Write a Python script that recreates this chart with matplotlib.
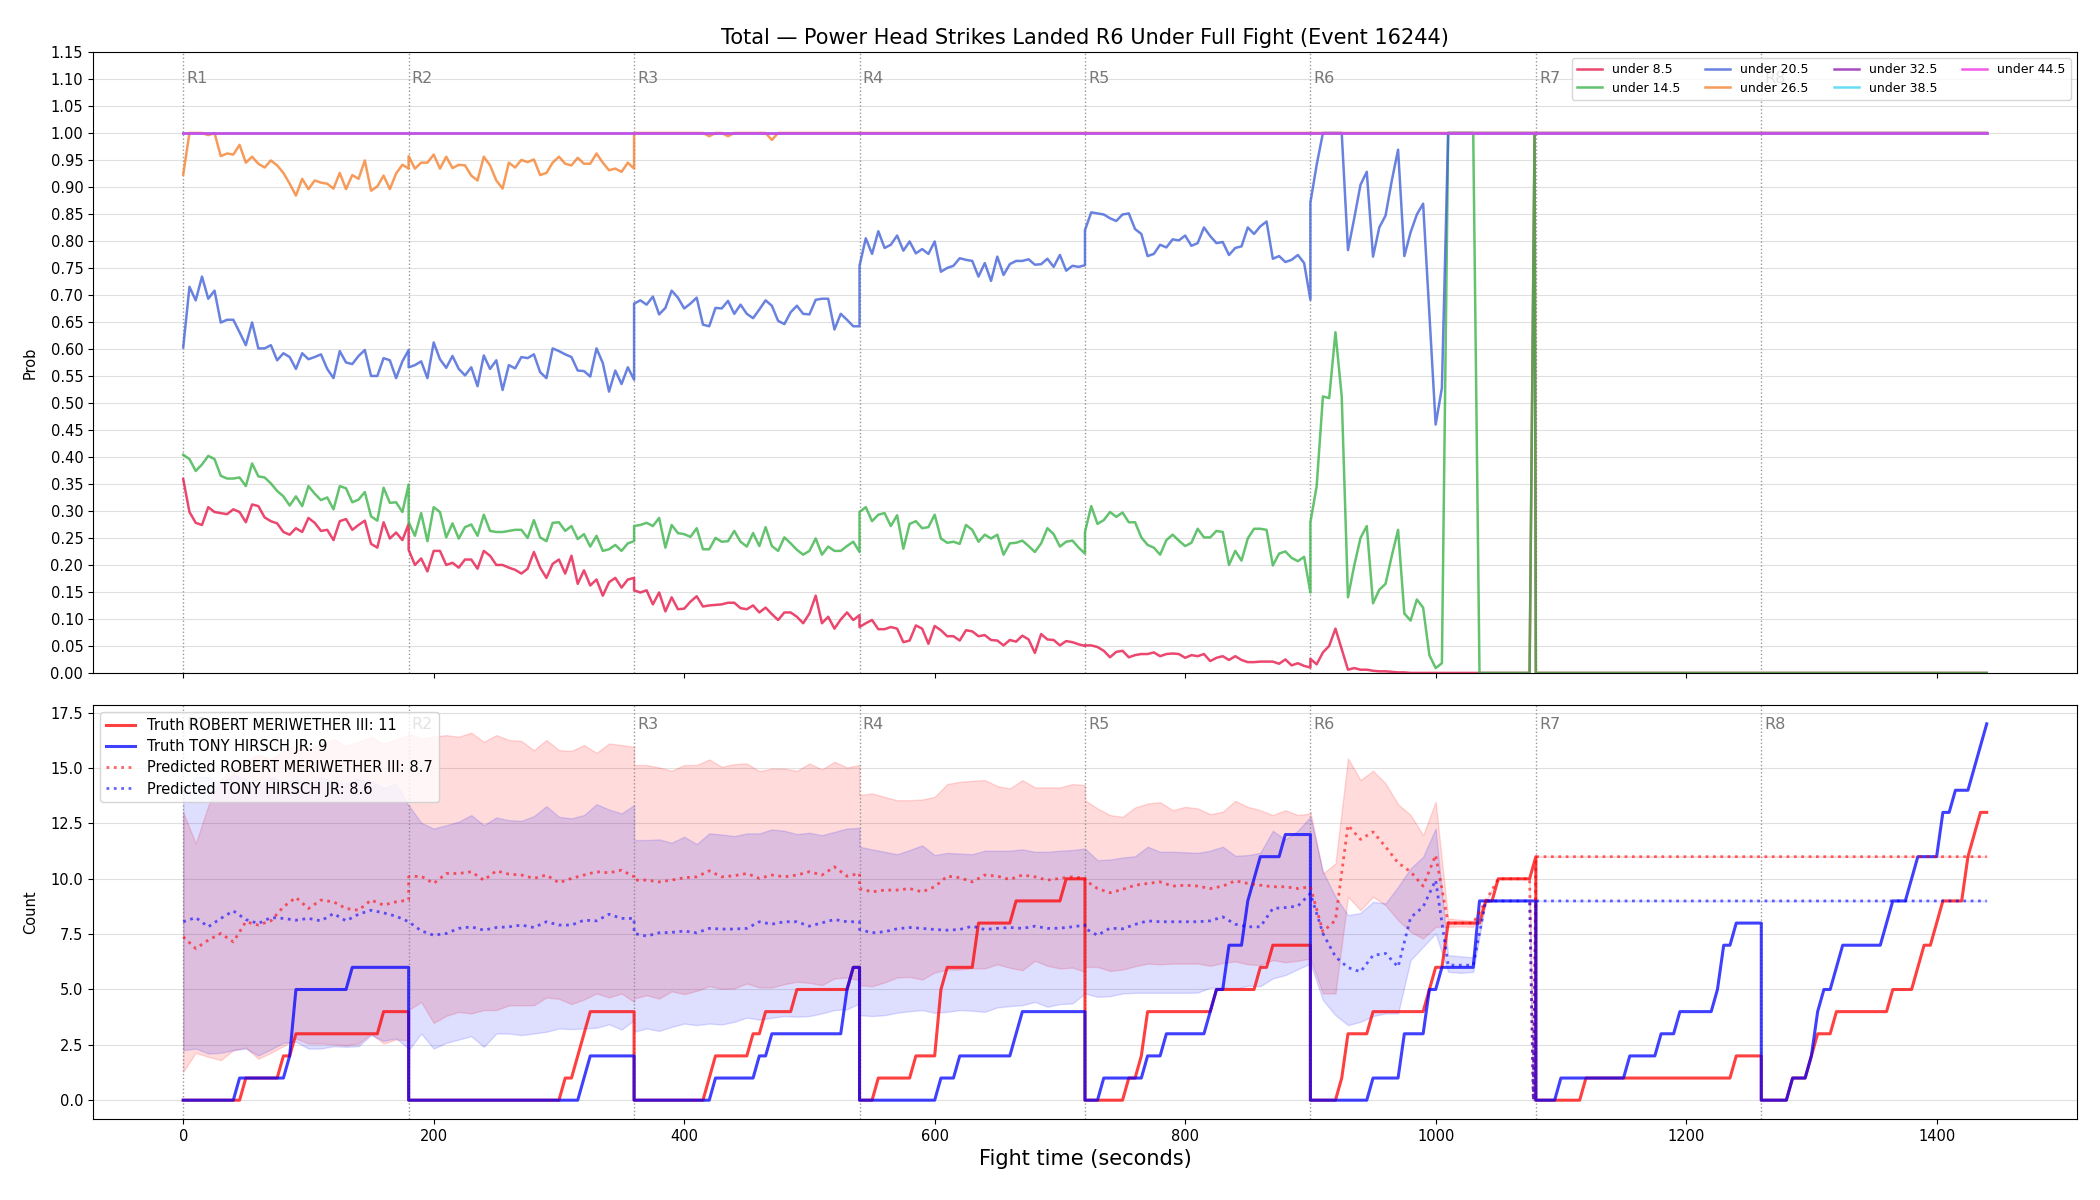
import numpy as np
import matplotlib
matplotlib.use("Agg")
import matplotlib.pyplot as plt
import matplotlib.transforms as mtransforms

# ---------------- top panel: P(total < line), sampled every 5 s ----------------
round_starts = [0, 180, 360, 540, 720, 900, 1080, 1260]
round_names = ["R1", "R2", "R3", "R4", "R5", "R6", "R7", "R8"]
line_labels = ["under 8.5", "under 14.5", "under 20.5", "under 26.5",
               "under 32.5", "under 38.5", "under 44.5"]
line_colors = ["#e6194b", "#3cb44b", "#4363d8", "#f58231",
               "#911eb4", "#42d4f4", "#f032e6"]

u85 = [
    [0.359, 0.298, 0.278, 0.274, 0.307, 0.298, 0.296, 0.294, 0.303, 0.298, 0.279, 0.312, 0.309, 0.288, 0.281, 0.277, 0.261, 0.256, 0.268,
     0.261, 0.287, 0.278, 0.263, 0.265, 0.246, 0.281, 0.285, 0.265, 0.274, 0.282, 0.239, 0.232, 0.279, 0.249, 0.260, 0.246, 0.276],
    [0.228, 0.200, 0.212, 0.188, 0.226, 0.226, 0.200, 0.204, 0.195, 0.210, 0.210, 0.193, 0.226, 0.217, 0.200, 0.200, 0.195, 0.191, 0.184,
     0.193, 0.224, 0.195, 0.176, 0.202, 0.210, 0.184, 0.217, 0.165, 0.190, 0.162, 0.173, 0.143, 0.168, 0.176, 0.158, 0.173, 0.176],
    [0.153, 0.149, 0.153, 0.127, 0.149, 0.114, 0.140, 0.118, 0.119, 0.132, 0.142, 0.123, 0.125, 0.126, 0.127, 0.130, 0.130, 0.120, 0.118,
     0.125, 0.112, 0.121, 0.109, 0.098, 0.112, 0.112, 0.104, 0.092, 0.110, 0.143, 0.092, 0.104, 0.082, 0.099, 0.112, 0.098, 0.107],
    [0.085, 0.092, 0.098, 0.081, 0.081, 0.085, 0.082, 0.057, 0.060, 0.088, 0.082, 0.054, 0.087, 0.079, 0.068, 0.068, 0.060, 0.079, 0.077,
     0.068, 0.070, 0.061, 0.060, 0.051, 0.061, 0.058, 0.069, 0.062, 0.037, 0.072, 0.062, 0.061, 0.051, 0.059, 0.057, 0.053, 0.050],
    [0.051, 0.051, 0.048, 0.041, 0.029, 0.039, 0.041, 0.029, 0.033, 0.035, 0.035, 0.038, 0.031, 0.035, 0.036, 0.035, 0.028, 0.033, 0.031,
     0.035, 0.022, 0.028, 0.031, 0.024, 0.031, 0.024, 0.020, 0.020, 0.021, 0.021, 0.021, 0.017, 0.025, 0.014, 0.018, 0.013, 0.010],
    [0.026, 0.016, 0.038, 0.050, 0.082, 0.044, 0.006, 0.009, 0.006, 0.006, 0.004, 0.003, 0.003, 0.002, 0.001, 0.001, 0.0, 0.0, 0.0,
     0.0, 0.0, 0.0, 0.0],
]
u85_tail_t = [1015, 1075, 1079, 1080, 1440]
u85_tail_v = [0.0, 0.0, 1.0, 0.0, 0.0]

u145 = [
    [0.404, 0.396, 0.374, 0.386, 0.402, 0.396, 0.365, 0.360, 0.360, 0.362, 0.346, 0.388, 0.364, 0.362, 0.351, 0.337, 0.327, 0.310, 0.327,
     0.309, 0.346, 0.332, 0.320, 0.325, 0.303, 0.346, 0.342, 0.316, 0.321, 0.335, 0.290, 0.282, 0.343, 0.315, 0.316, 0.298, 0.349],
    [0.279, 0.254, 0.296, 0.244, 0.307, 0.298, 0.251, 0.277, 0.249, 0.270, 0.275, 0.254, 0.293, 0.263, 0.261, 0.261, 0.263, 0.265, 0.265,
     0.250, 0.283, 0.251, 0.244, 0.278, 0.279, 0.263, 0.272, 0.248, 0.257, 0.234, 0.254, 0.226, 0.229, 0.237, 0.226, 0.240, 0.244],
    [0.272, 0.274, 0.278, 0.272, 0.287, 0.232, 0.274, 0.259, 0.257, 0.252, 0.268, 0.229, 0.229, 0.250, 0.243, 0.244, 0.263, 0.243, 0.234,
     0.259, 0.235, 0.270, 0.235, 0.226, 0.251, 0.240, 0.228, 0.219, 0.226, 0.249, 0.219, 0.234, 0.226, 0.226, 0.235, 0.243, 0.224],
    [0.298, 0.307, 0.281, 0.293, 0.296, 0.272, 0.292, 0.230, 0.276, 0.281, 0.268, 0.270, 0.293, 0.249, 0.241, 0.243, 0.239, 0.274, 0.265,
     0.243, 0.256, 0.249, 0.256, 0.219, 0.240, 0.241, 0.245, 0.235, 0.224, 0.240, 0.268, 0.257, 0.234, 0.243, 0.245, 0.232, 0.221],
    [0.261, 0.309, 0.276, 0.283, 0.298, 0.289, 0.297, 0.279, 0.279, 0.251, 0.237, 0.232, 0.219, 0.246, 0.256, 0.245, 0.235, 0.241, 0.267,
     0.251, 0.251, 0.263, 0.261, 0.200, 0.226, 0.208, 0.249, 0.267, 0.267, 0.265, 0.199, 0.221, 0.225, 0.213, 0.207, 0.215, 0.149],
    [0.279, 0.346, 0.512, 0.509, 0.631, 0.512, 0.140, 0.199, 0.250, 0.272, 0.129, 0.154, 0.165, 0.217, 0.265, 0.110, 0.097, 0.136, 0.121,
     0.033, 0.009, 0.018, 1.0, 1.0, 1.0, 1.0, 1.0],
]
u145_tail_t = [1035, 1075, 1079, 1080, 1440]
u145_tail_v = [0.0, 0.0, 1.0, 0.0, 0.0]

u205 = [
    [0.603, 0.715, 0.690, 0.734, 0.693, 0.708, 0.649, 0.654, 0.654, 0.631, 0.607, 0.649, 0.601, 0.601, 0.607, 0.579, 0.592, 0.585, 0.563,
     0.592, 0.581, 0.585, 0.590, 0.563, 0.546, 0.596, 0.575, 0.572, 0.587, 0.598, 0.550, 0.550, 0.583, 0.579, 0.546, 0.577, 0.598],
    [0.566, 0.570, 0.577, 0.546, 0.612, 0.581, 0.565, 0.587, 0.563, 0.551, 0.566, 0.531, 0.588, 0.563, 0.579, 0.524, 0.570, 0.564, 0.585,
     0.583, 0.590, 0.557, 0.546, 0.601, 0.596, 0.590, 0.585, 0.560, 0.559, 0.549, 0.601, 0.574, 0.521, 0.560, 0.535, 0.566, 0.543],
    [0.684, 0.690, 0.682, 0.697, 0.664, 0.676, 0.708, 0.695, 0.675, 0.684, 0.695, 0.645, 0.642, 0.676, 0.675, 0.689, 0.665, 0.682, 0.665,
     0.657, 0.673, 0.690, 0.680, 0.652, 0.646, 0.668, 0.680, 0.665, 0.664, 0.691, 0.693, 0.693, 0.636, 0.665, 0.654, 0.642, 0.642],
    [0.754, 0.805, 0.776, 0.818, 0.787, 0.793, 0.810, 0.782, 0.799, 0.777, 0.785, 0.776, 0.799, 0.743, 0.750, 0.754, 0.768, 0.765, 0.763,
     0.734, 0.759, 0.726, 0.771, 0.737, 0.757, 0.763, 0.763, 0.766, 0.756, 0.757, 0.767, 0.752, 0.774, 0.745, 0.754, 0.752, 0.755],
    [0.820, 0.853, 0.851, 0.849, 0.842, 0.837, 0.849, 0.851, 0.822, 0.813, 0.772, 0.776, 0.793, 0.788, 0.803, 0.801, 0.810, 0.791, 0.796,
     0.825, 0.809, 0.796, 0.798, 0.774, 0.787, 0.790, 0.825, 0.813, 0.827, 0.836, 0.767, 0.772, 0.761, 0.765, 0.774, 0.759, 0.691],
    [0.871, 0.941, 1.0, 1.0, 1.0, 1.0, 0.783, 0.842, 0.904, 0.928, 0.771, 0.825, 0.847, 0.912, 0.969, 0.772, 0.816, 0.849, 0.869,
     0.665, 0.460, 0.528, 1.0],
]
u205_tail_t = [1440]
u205_tail_v = [1.0]

u265 = [
    [0.923, 1.0, 1.0, 1.0, 0.996, 1.0, 0.957, 0.962, 0.960, 0.978, 0.945, 0.956, 0.943, 0.936, 0.949, 0.940, 0.926, 0.906, 0.884,
     0.915, 0.896, 0.912, 0.908, 0.906, 0.897, 0.926, 0.896, 0.922, 0.915, 0.949, 0.893, 0.901, 0.921, 0.896, 0.925, 0.941, 0.934],
    [0.957, 0.934, 0.945, 0.945, 0.960, 0.934, 0.956, 0.935, 0.941, 0.940, 0.921, 0.912, 0.956, 0.940, 0.912, 0.897, 0.945, 0.936, 0.950,
     0.946, 0.951, 0.922, 0.926, 0.945, 0.956, 0.943, 0.940, 0.954, 0.943, 0.943, 0.962, 0.945, 0.931, 0.934, 0.928, 0.945, 0.934],
    [1.0, 1.0, 1.0, 1.0, 1.0, 1.0, 1.0, 1.0, 1.0, 1.0, 1.0, 1.0, 0.994, 1.0, 1.0, 0.994, 1.0, 1.0, 1.0,
     1.0, 1.0, 1.0, 0.987, 1.0, 1.0, 1.0, 1.0, 1.0, 1.0, 1.0, 1.0, 1.0, 1.0, 1.0, 1.0, 1.0, 1.0],
]
u265_tail_t = [1440]
u265_tail_v = [1.0]

flat_t = [0, 1440]
flat_v = [1.0, 1.0]

# ---------------- bottom panel ----------------
fighter_a = "ROBERT MERIWETHER III"
fighter_b = "TONY HIRSCH JR"
final_a, final_b = 11, 9
pred_final_a, pred_final_b = 8.7, 8.6

# times (s) each fighter's count ticked up, per round
events_a = [50, 80, 90, 160,
            305, 315, 320, 325,
            420, 425, 455, 465, 490, 535,
            555, 585, 605, 605, 605, 610, 635, 635, 665, 705,
            755, 765, 770, 770, 825, 860, 870,
            925, 930, 930, 950, 995, 1000, 1010, 1010, 1040, 1050, 1080,
            1120, 1240,
            1285, 1300, 1305, 1320, 1365, 1385, 1390, 1400, 1405, 1425, 1425, 1430, 1435]
events_b = [45, 85, 90, 90, 90, 135,
            320, 325,
            425, 460, 470, 530, 530, 535,
            605, 620, 665, 670,
            735, 770, 785, 820, 825, 835, 835, 850, 850, 855, 860, 880,
            950, 975, 975, 995, 995, 1005, 1035, 1035, 1035,
            1100, 1155, 1180, 1195, 1225, 1230, 1230, 1240,
            1285, 1300, 1305, 1305, 1310, 1320, 1325, 1360, 1365, 1380, 1385, 1405, 1405, 1415, 1430, 1435, 1440]

# model prediction, sampled every 10 s per round (R1..R5), R6 listed separately
pred_a = [
    [7.38, 6.85, 7.23, 7.53, 7.15, 8.06, 7.91, 8.10, 8.73, 9.16, 8.66, 9.04, 8.96, 8.66, 8.58, 9.04, 8.81, 8.96, 9.04],
    [10.09, 10.12, 9.79, 10.24, 10.24, 10.32, 9.94, 10.36, 10.21, 10.17, 10.02, 10.17, 9.82, 10.02, 10.17, 10.32, 10.27, 10.39, 10.09],
    [9.94, 9.94, 9.86, 9.94, 10.05, 10.09, 10.36, 10.09, 10.14, 10.24, 10.02, 10.17, 10.09, 10.17, 10.32, 10.17, 10.54, 10.12, 10.24],
    [9.56, 9.41, 9.49, 9.49, 9.56, 9.41, 9.64, 10.12, 10.05, 9.86, 10.17, 10.12, 9.97, 10.17, 10.09, 9.94, 10.02, 10.09, 10.02],
    [9.94, 9.56, 9.37, 9.52, 9.71, 9.79, 9.86, 9.67, 9.71, 9.67, 9.56, 9.67, 9.91, 9.79, 9.71, 9.64, 9.64, 9.56, 9.64],
]
pred_b = [
    [8.06, 8.25, 7.83, 8.21, 8.55, 8.16, 7.98, 8.25, 8.21, 8.13, 8.21, 8.10, 8.43, 8.10, 8.40, 8.58, 8.46, 8.31, 8.06],
    [8.06, 7.65, 7.45, 7.53, 7.76, 7.83, 7.68, 7.80, 7.83, 7.91, 7.80, 8.06, 7.91, 7.91, 8.13, 8.10, 8.40, 8.21, 8.21],
    [7.53, 7.41, 7.56, 7.58, 7.64, 7.56, 7.76, 7.73, 7.73, 7.76, 8.06, 7.95, 8.06, 8.06, 7.86, 8.01, 8.16, 8.06, 8.06],
    [7.71, 7.56, 7.61, 7.74, 7.80, 7.76, 7.71, 7.68, 7.71, 7.86, 7.71, 7.76, 7.80, 7.76, 7.86, 7.76, 7.77, 7.83, 7.91],
    [7.76, 7.45, 7.77, 7.74, 7.94, 8.10, 8.06, 8.06, 8.06, 8.06, 8.10, 8.28, 7.95, 7.83, 7.83, 8.66, 8.70, 8.77, 9.34],
]
hi_a = [
    [13.0, 11.6, 13.3, 14.5, 15.0, 15.3, 15.6, 15.4, 15.8, 16.0, 15.9, 16.1, 16.3, 16.0, 16.2, 16.4, 16.1, 16.3, 16.5],
    [16.57, 16.34, 16.42, 16.49, 16.42, 16.60, 16.19, 16.49, 16.27, 16.23, 15.81, 16.27, 15.81, 15.78, 16.04, 15.69, 16.11, 16.04, 15.96],
    [15.14, 15.14, 15.03, 14.88, 15.14, 15.14, 15.39, 15.06, 15.18, 15.21, 14.86, 14.98, 14.98, 14.88, 15.21, 14.94, 15.29, 15.03, 15.14],
    [13.78, 13.86, 13.70, 13.55, 13.55, 13.58, 13.70, 14.28, 14.38, 14.43, 14.46, 14.19, 14.08, 14.46, 14.13, 14.13, 14.13, 14.28, 14.23],
    [13.55, 13.18, 12.88, 12.80, 13.22, 13.40, 13.46, 13.10, 13.25, 13.18, 12.92, 13.03, 13.52, 13.25, 13.10, 12.88, 13.10, 12.88, 12.95],
]
lo_a = [
    [1.28, 2.14, 1.96, 1.81, 2.26, 2.38, 1.87, 2.14, 2.44, 2.79, 2.56, 2.56, 2.53, 2.48, 2.56, 3.01, 2.56, 2.74, 2.71],
    [4.07, 4.44, 3.49, 3.81, 3.99, 3.92, 4.07, 4.07, 4.28, 4.29, 4.29, 4.64, 4.58, 4.34, 4.55, 4.82, 4.64, 4.82, 4.44],
    [4.59, 4.74, 4.59, 4.92, 4.79, 4.94, 5.15, 5.03, 5.05, 5.27, 5.09, 5.09, 5.24, 5.35, 5.30, 5.20, 5.50, 5.54, 5.42],
    [5.20, 5.15, 5.32, 5.54, 5.57, 5.45, 5.77, 5.90, 5.90, 5.96, 5.95, 6.14, 5.98, 5.87, 6.30, 6.07, 5.95, 5.99, 5.80],
    [6.02, 6.02, 5.84, 5.90, 6.05, 6.17, 6.14, 6.17, 6.17, 6.17, 6.07, 6.20, 6.27, 6.14, 6.10, 6.33, 6.23, 6.30, 6.40],
]
hi_b = [
    [14.0, 14.6, 14.6, 14.3, 14.7, 14.5, 14.2, 14.6, 14.4, 14.5, 14.2, 14.6, 14.4, 14.3, 14.5, 14.4, 14.1, 14.3, 13.3],
    [13.33, 12.53, 12.27, 12.42, 12.58, 12.88, 12.42, 12.77, 12.65, 12.62, 12.83, 13.28, 12.80, 12.73, 12.88, 13.37, 13.13, 12.95, 13.33],
    [11.75, 11.75, 11.78, 11.63, 11.90, 11.57, 12.05, 12.00, 11.93, 12.05, 12.05, 12.23, 12.17, 12.02, 12.08, 11.97, 12.12, 12.27, 12.30],
    [11.45, 11.33, 11.22, 11.11, 11.30, 11.51, 11.07, 11.17, 11.14, 11.11, 11.27, 11.27, 11.27, 11.33, 11.22, 11.22, 11.27, 11.30, 11.37],
    [11.37, 10.84, 10.87, 10.96, 11.02, 11.45, 11.22, 11.22, 11.20, 11.17, 11.27, 11.45, 11.04, 11.07, 11.17, 12.17, 11.78, 12.17, 12.80],
]
lo_b = [
    [2.26, 2.33, 2.11, 2.14, 2.26, 2.33, 2.02, 2.29, 2.59, 2.64, 2.33, 2.33, 2.44, 2.41, 2.44, 2.94, 2.68, 2.79, 2.33],
    [2.26, 3.01, 2.33, 2.59, 2.74, 2.89, 2.41, 3.01, 3.01, 2.94, 3.01, 3.09, 3.24, 3.21, 3.24, 3.27, 3.43, 3.19, 3.61],
    [3.09, 3.24, 3.13, 3.31, 3.46, 3.39, 3.46, 3.42, 3.54, 3.73, 3.64, 3.72, 3.80, 3.77, 3.80, 3.92, 4.07, 4.11, 4.37],
    [3.84, 3.80, 3.84, 3.95, 4.02, 4.07, 3.95, 3.99, 4.07, 4.04, 3.99, 4.19, 4.25, 4.29, 4.44, 4.22, 4.34, 4.37, 4.82],
    [4.82, 4.67, 4.70, 4.82, 4.85, 4.85, 4.85, 4.85, 4.85, 4.86, 5.08, 5.09, 5.03, 5.17, 5.15, 5.50, 5.65, 5.92, 6.17],
]
# R6 onwards (prediction collapses onto the truth, then holds the final value)
late_t = [900, 910, 920, 930, 940, 950, 960, 970, 980, 990, 1000, 1010, 1020, 1030, 1040, 1050, 1060, 1070, 1075, 1078, 1080, 1440]
late_pred_a = [9.64, 7.61, 8.13, 12.42, 11.78, 12.12, 11.45, 10.72, 10.32, 9.67, 11.07, 8.0, 8.0, 8.0, 9.0, 10.0, 10.0, 10.0, 10.0, 0.0, 11.0, 11.0]
late_hi_a = [13.03, 10.24, 10.69, 15.44, 14.46, 14.88, 14.31, 13.37, 12.88, 11.97, 13.48, 8.21, 8.15, 8.10, 9.0, 10.0, 10.0, 10.0, 10.0, 0.0, 11.0, 11.0]
late_lo_a = [6.40, 4.82, 4.82, 9.19, 8.58, 9.19, 8.81, 8.13, 7.61, 7.30, 7.83, 7.83, 7.85, 7.83, 9.0, 10.0, 10.0, 10.0, 10.0, 0.0, 11.0, 11.0]
late_pred_b = [9.34, 7.53, 6.48, 5.99, 5.80, 6.54, 6.63, 6.02, 8.25, 8.73, 9.94, 6.1, 6.1, 6.1, 9.0, 9.0, 9.0, 9.0, 9.0, 0.0, 9.0, 9.0]
late_hi_b = [12.80, 10.32, 9.19, 8.36, 8.46, 8.96, 8.89, 9.64, 10.47, 11.00, 12.27, 6.55, 6.50, 6.45, 9.0, 9.0, 9.0, 9.0, 9.0, 0.0, 9.0, 9.0]
late_lo_b = [6.17, 4.52, 3.84, 3.39, 3.54, 3.80, 3.92, 3.92, 6.33, 6.93, 7.53, 5.80, 5.75, 5.80, 9.0, 9.0, 9.0, 9.0, 9.0, 0.0, 9.0, 9.0]


def top_series(rounds, tail_t, tail_v):
    t, v = [], []
    for i, vals in enumerate(rounds):
        t += [round_starts[i] + 5 * k for k in range(len(vals))]
        v += vals
    return np.array(t + tail_t), np.array(v + tail_v)


def band_series(rounds, late):
    t, v = [], []
    for i, vals in enumerate(rounds):
        t += [round_starts[i] + 10 * k for k in range(len(vals))]
        v += vals
    return np.array(t + late_t), np.array(v + late)


def truth_series(events):
    ev = np.array(events)
    t, v = [], []
    for s in round_starts:
        ts = np.arange(s, s + 181, 5)
        in_round = ev[(ev > s) & (ev <= s + 180)]
        t += list(ts)
        v += list(np.searchsorted(np.sort(in_round), ts, side="right"))
    return np.array(t), np.array(v)


plt.rcParams["xtick.labelsize"] = 10.5
plt.rcParams["ytick.labelsize"] = 10.5

fig, (ax1, ax2) = plt.subplots(2, 1, figsize=(21, 12), dpi=100, sharex=True,
                               gridspec_kw={"height_ratios": [3, 2]})
fig.subplots_adjust(left=0.0443, right=0.989, top=0.9567, bottom=0.0675, hspace=0.062)

series = [top_series(u85, u85_tail_t, u85_tail_v),
          top_series(u145, u145_tail_t, u145_tail_v),
          top_series(u205, u205_tail_t, u205_tail_v),
          top_series(u265, u265_tail_t, u265_tail_v),
          (np.array(flat_t), np.array(flat_v)),
          (np.array(flat_t), np.array(flat_v)),
          (np.array(flat_t), np.array(flat_v))]
for (t, v), lab, c in zip(series, line_labels, line_colors):
    ax1.plot(t, v, color=c, lw=1.8, alpha=0.8, label=lab)

ax1.set_ylim(0, 1.15)
ax1.set_yticks(np.arange(0, 1.151, 0.05))
ax1.set_ylabel("Prob", fontsize=10.5, labelpad=9)
ax1.set_title("Total \u2014 Power Head Strikes Landed R6 Under Full Fight (Event 16244)", fontsize=15)
ax1.legend(loc="upper right", ncol=4, fontsize=9, labelspacing=0.45)

# bottom panel
ta, ya = truth_series(events_a)
tb, yb = truth_series(events_b)
pta, pa = band_series(pred_a, late_pred_a)
_, ha = band_series(hi_a, late_hi_a)
_, la = band_series(lo_a, late_lo_a)
ptb, pb = band_series(pred_b, late_pred_b)
_, hb = band_series(hi_b, late_hi_b)
_, lb = band_series(lo_b, late_lo_b)

ax2.fill_between(pta, la, ha, color="red", alpha=0.14, lw=1)
ax2.fill_between(ptb, lb, hb, color="blue", alpha=0.13, lw=1)
ax2.plot(ta, ya, color="red", lw=2.2, alpha=0.75, label=f"Truth {fighter_a}: {final_a}")
ax2.plot(tb, yb, color="blue", lw=2.2, alpha=0.75, label=f"Truth {fighter_b}: {final_b}")
ax2.plot(pta, pa, color="red", lw=2, ls=":", alpha=0.6, label=f"Predicted {fighter_a}: {pred_final_a}")
ax2.plot(ptb, pb, color="blue", lw=2, ls=":", alpha=0.6, label=f"Predicted {fighter_b}: {pred_final_b}")
ax2.set_ylim(-0.85, 17.85)
ax2.set_yticks(np.arange(0, 17.6, 2.5))
ax2.set_ylabel("Count", fontsize=10.5, labelpad=9)
ax2.set_xlabel("Fight time (seconds)", fontsize=15)
ax2.legend(loc="upper left", fontsize=10.5, labelspacing=0.42)
ax2.set_xlim(-72, 1512)

for ax in (ax1, ax2):
    ax.grid(axis="y", color="#e0e0e0", lw=0.8)
    ax.set_axisbelow(True)
    trans = mtransforms.blended_transform_factory(ax.transData, ax.transAxes)
    for s, name in zip(round_starts, round_names):
        ax.axvline(s, color="gray", ls=":", lw=1, alpha=0.8, zorder=1)
        ax.text(s + 2.5, 0.97, name, transform=trans, va="top", ha="left",
                fontsize=11.5, color="dimgray", alpha=0.9)

fig.savefig("out.png", dpi=100)
